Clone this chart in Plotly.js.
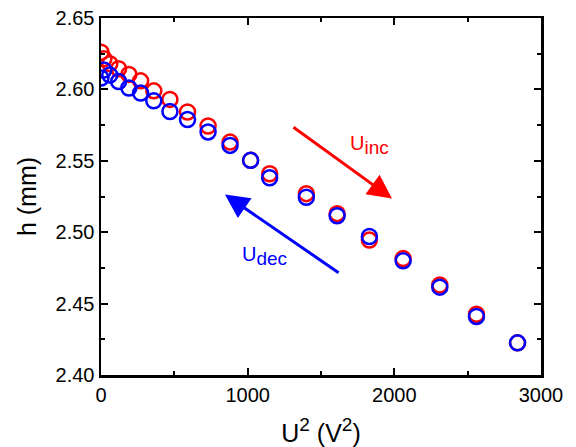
<!DOCTYPE html>
<html>
<head>
<meta charset="utf-8">
<script src="https://cdn.plot.ly/plotly-3.0.1.min.js"></script>
<style>html,body{margin:0;padding:0;background:#fff;}#chart{width:576px;height:447px;}</style>
</head>
<body>
<div id="chart"></div>
<script>
// U^2 values (V^2)
const u2 = [0, 20, 60, 120, 190, 270, 360, 470, 590, 730, 880, 1020, 1150, 1400, 1610, 1830, 2060, 2310, 2560, 2840];
// h (mm) while increasing voltage
const hInc = [2.626, 2.6215, 2.618, 2.6145, 2.6105, 2.606, 2.599, 2.593, 2.5842, 2.5744, 2.5631, 2.5503, 2.5409, 2.527, 2.513, 2.4945, 2.4815, 2.463, 2.4425, 2.4225];
// h (mm) while decreasing voltage
const hDec = [2.608, 2.6135, 2.610, 2.6055, 2.601, 2.5975, 2.592, 2.5845, 2.5789, 2.5702, 2.5608, 2.5503, 2.5381, 2.5245, 2.5115, 2.497, 2.480, 2.4615, 2.441, 2.4225];
const xTicks = [0, 1000, 2000, 3000];
const yTicks = [2.40, 2.45, 2.50, 2.55, 2.60, 2.65];

const font = "Liberation Sans, Arial, Helvetica, sans-serif";

const traces = [
  {x: u2, y: hInc, type: 'scatter', mode: 'markers', name: 'U inc',
   marker: {symbol: 'circle-open', size: 15, color: '#ff0000', line: {width: 2.5, color: '#ff0000'}}},
  {x: u2, y: hDec, type: 'scatter', mode: 'markers', name: 'U dec',
   marker: {symbol: 'circle-open', size: 15, color: '#0000ff', line: {width: 2.5, color: '#0000ff'}}}
];

const axisCommon = {
  showgrid: false, zeroline: false, showline: true, linecolor: '#000', linewidth: 2.5,
  mirror: 'allticks', ticks: 'inside', ticklen: 7, tickwidth: 2, tickcolor: '#000',
  tickfont: {family: font, size: 20, color: '#000'}
};

const sup2 = '<sup><span style="font-size:19px">2</span></sup>';

const layout = {
  width: 576, height: 447,
  margin: {l: 101, r: 35, t: 18, b: 72},
  paper_bgcolor: '#fff', plot_bgcolor: '#fff',
  showlegend: false,
  xaxis: Object.assign({}, axisCommon, {
    range: [0, 3000], tickvals: xTicks, ticktext: xTicks.map(String),
    minor: {dtick: 500, ticks: 'inside', ticklen: 4, tickwidth: 2, tickcolor: '#000'},
    title: {text: 'U' + sup2 + ' (V' + sup2 + ')', font: {family: font, size: 25, color: '#000'}, standoff: 20}
  }),
  yaxis: Object.assign({}, axisCommon, {
    range: [2.40, 2.65], tickvals: yTicks, ticktext: yTicks.map(v => v.toFixed(2)),
    minor: {dtick: 0.025, ticks: 'inside', ticklen: 4, tickwidth: 2, tickcolor: '#000'},
    title: {text: 'h (mm)', font: {family: font, size: 25, color: '#000'}, standoff: 12}
  }),
  annotations: [
    {x: 1984, y: 2.5236, ax: 1302, ay: 2.5742, xref: 'x', yref: 'y', axref: 'x', ayref: 'y',
     showarrow: true, arrowhead: 2, arrowsize: 1.6, arrowwidth: 3, arrowcolor: '#ff0000', text: ''},
    {x: 845, y: 2.5264, ax: 1630, ay: 2.4709, xref: 'x', yref: 'y', axref: 'x', ayref: 'y',
     showarrow: true, arrowhead: 2, arrowsize: 1.6, arrowwidth: 3, arrowcolor: '#0000ff', text: ''},
    {x: 1834, y: 2.5608, xref: 'x', yref: 'y', showarrow: false,
     text: 'U<sub><span style="font-size:19px">inc</span></sub>', font: {family: font, size: 20, color: '#ff0000'}},
    {x: 1118, y: 2.4836, xref: 'x', yref: 'y', showarrow: false,
     text: 'U<sub><span style="font-size:19px">dec</span></sub>', font: {family: font, size: 20, color: '#0000ff'}}
  ]
};

Plotly.newPlot('chart', traces, layout, {staticPlot: true, displayModeBar: false});
</script>
</body>
</html>
